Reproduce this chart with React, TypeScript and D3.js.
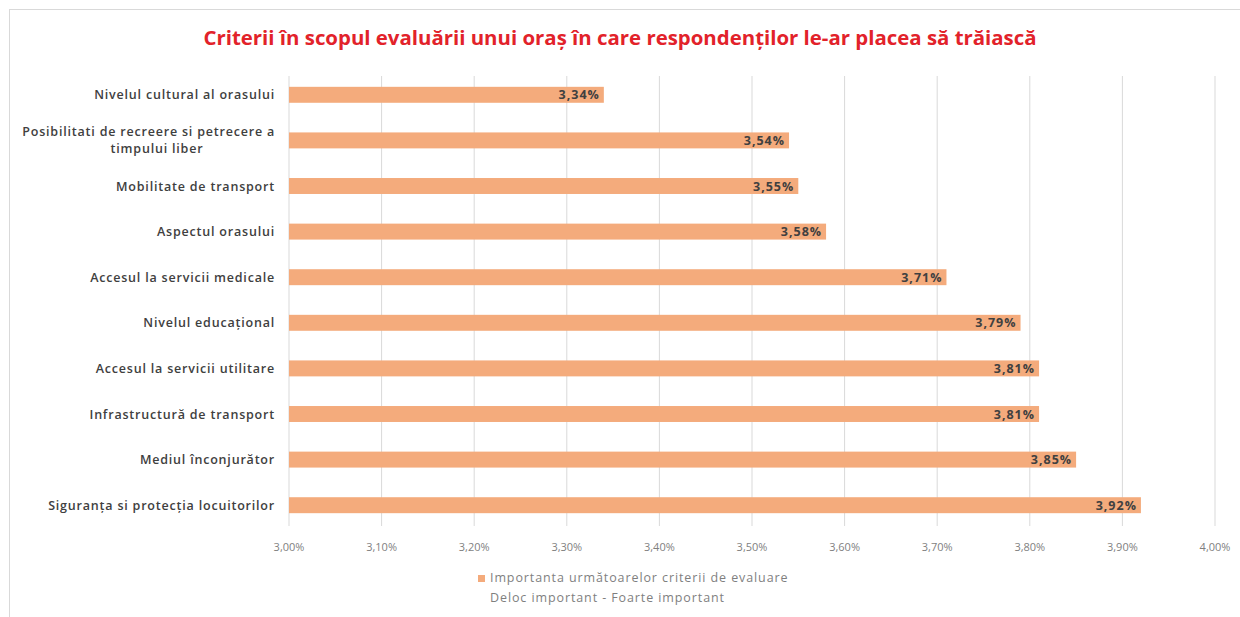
import React from "react";
import * as d3 from "d3";

const categories = [
  "Nivelul cultural al orasului",
  "Posibilitati de recreere si petrecere a timpului liber",
  "Mobilitate de transport",
  "Aspectul orasului",
  "Accesul la servicii medicale",
  "Nivelul educațional",
  "Accesul la servicii utilitare",
  "Infrastructură de transport",
  "Mediul înconjurător",
  "Siguranța si protecția locuitorilor",
];
const labelLines: string[][] = [
  ["Nivelul cultural al orasului"],
  ["Posibilitati de recreere si petrecere a", "timpului liber"],
  ["Mobilitate de transport"],
  ["Aspectul orasului"],
  ["Accesul la servicii medicale"],
  ["Nivelul educațional"],
  ["Accesul la servicii utilitare"],
  ["Infrastructură de transport"],
  ["Mediul înconjurător"],
  ["Siguranța si protecția locuitorilor"],
];
const values = [3.34, 3.54, 3.55, 3.58, 3.71, 3.79, 3.81, 3.81, 3.85, 3.92];
const ticks = [3.0, 3.1, 3.2, 3.3, 3.4, 3.5, 3.6, 3.7, 3.8, 3.9, 4.0];
const title =
  "Criterii în scopul evaluării unui oraș în care respondenților le-ar placea să trăiască";
const legendLines = [
  "Importanta următoarelor criterii de evaluare",
  "Deloc important - Foarte important",
];

const W = 1240;
const H = 617;
const FONT = "'Open Sans', 'Noto Sans', sans-serif";

export default function App() {
  const x = d3.scaleLinear().domain([3.0, 4.0]).range([289, 1215]);
  const y = d3
    .scaleBand<string>()
    .domain(categories)
    .range([72, 528])
    .paddingInner(0.65)
    .paddingOuter(0.325);
  const fmt = (v: number) => d3.format(".2f")(v).replace(".", ",") + "%";
  const barColor = "#F4AB7C";
  const labelStyle = { letterSpacing: "0.8px" };

  return (
    <svg
      width={W}
      height={H}
      style={{ position: "absolute", left: 0, top: 0, background: "#fff" }}
      fontFamily={FONT}
    >
      <rect x={9.5} y={9.5} width={W + 20} height={H + 20} fill="#fff" stroke="#d9d9d9" />
      <text
        x={620}
        y={45}
        textAnchor="middle"
        fontSize={20.4}
        fontWeight={700}
        fill="#E2222A"
      >
        {title}
      </text>
      {ticks.map((t) => (
        <line
          key={"g" + t}
          x1={x(t)}
          x2={x(t)}
          y1={76}
          y2={526}
          stroke="#d9d9d9"
          strokeWidth={1}
        />
      ))}
      {categories.map((c, i) => {
        const y0 = y(c)!;
        return (
          <g key={c}>
            <rect
              x={x(3.0)}
              y={y0}
              width={x(values[i]) - x(3.0)}
              height={y.bandwidth()}
              fill={barColor}
            />
            <text
              x={x(values[i]) - 4}
              y={y0 + y.bandwidth() / 2 + 4.5}
              textAnchor="end"
              fontSize={12.5}
              fontWeight={700}
              fill="#404040"
              style={{ letterSpacing: "1px" }}
            >
              {fmt(values[i])}
            </text>
          </g>
        );
      })}
      {categories.map((c, i) => {
        const cy = y(c)! + y.bandwidth() / 2;
        const lines = labelLines[i];
        if (lines.length === 1) {
          return (
            <text
              key={"l" + c}
              x={275}
              y={cy + 4.5}
              textAnchor="end"
              fontSize={12.5}
              fontWeight={600}
              fill="#404040"
              style={labelStyle}
            >
              {lines[0]}
            </text>
          );
        }
        return (
          <g key={"l" + c}>
            <text x={275} y={cy - 4} textAnchor="end" fontSize={12.5} fontWeight={600} fill="#404040" style={labelStyle}>
              {lines[0]}
            </text>
            <text x={157} y={cy + 13} textAnchor="middle" fontSize={12.5} fontWeight={600} fill="#404040" style={labelStyle}>
              {lines[1]}
            </text>
          </g>
        );
      })}
      {ticks.map((t) => (
        <text
          key={"t" + t}
          x={x(t)}
          y={551}
          textAnchor="middle"
          fontSize={11}
          fill="#7f7f7f"
        >
          {fmt(t)}
        </text>
      ))}
      <rect x={478} y={575} width={7} height={7} fill={barColor} />
      <text x={490} y={582} fontSize={12.5} fill="#7f7f7f" style={{ letterSpacing: "0.9px" }}>
        {legendLines[0]}
      </text>
      <text x={490} y={602} fontSize={12.5} fill="#7f7f7f" style={{ letterSpacing: "0.9px" }}>
        {legendLines[1]}
      </text>
    </svg>
  );
}
